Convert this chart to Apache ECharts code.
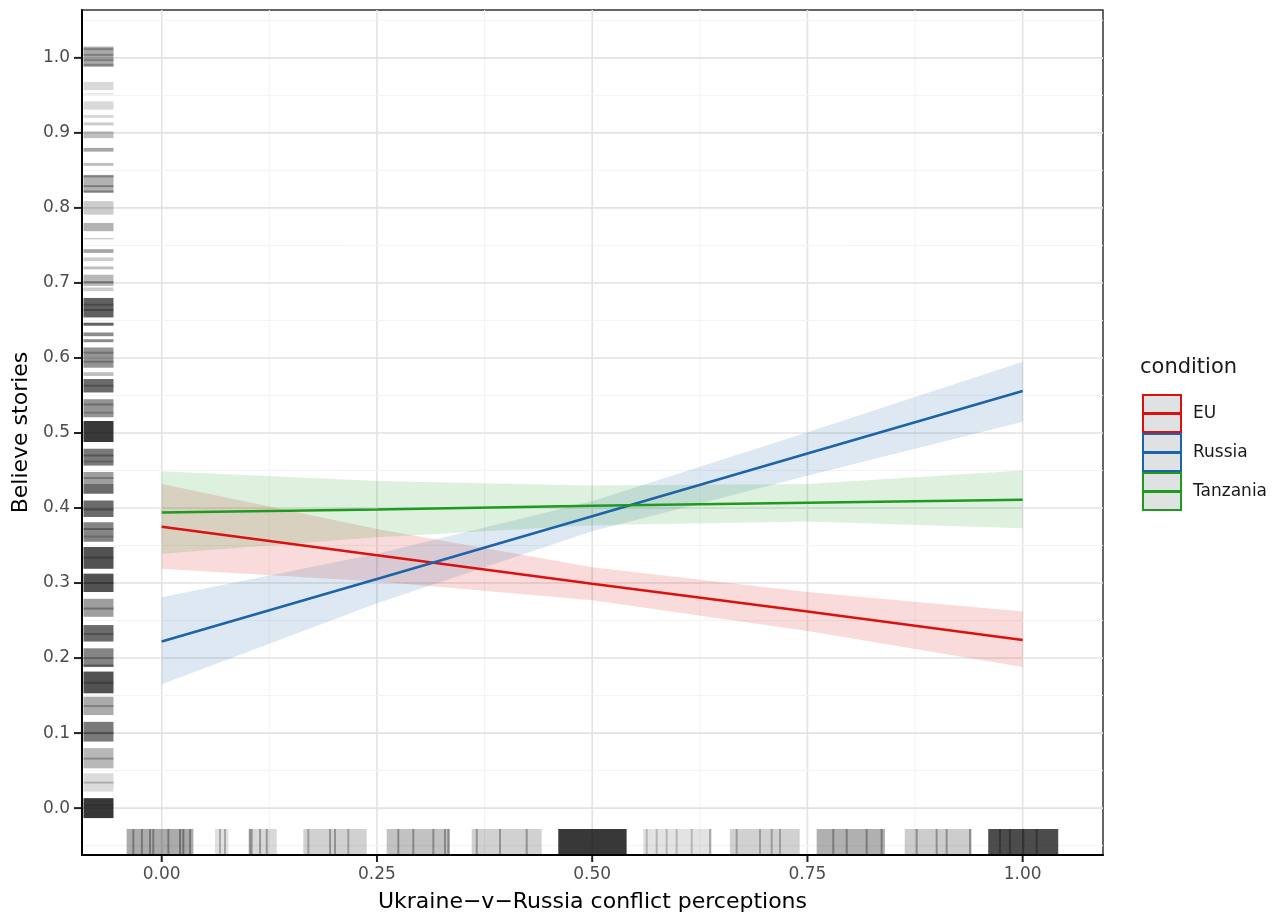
<!DOCTYPE html>
<html><head><meta charset="utf-8">
<script src="https://cdn.jsdelivr.net/npm/echarts@6/dist/echarts.min.js"></script>
<style>html,body{margin:0;padding:0;background:#fff}#c{width:1287px;height:918px}</style>
</head><body><div id="c"></div>
<script>
// ---------- data ----------
const xValues = [0, 0.25, 0.5, 0.75, 1];
const euFit = [0.375, 0.337, 0.299, 0.262, 0.224];
const euLo  = [0.319, 0.302, 0.277, 0.236, 0.188];
const euHi  = [0.432, 0.372, 0.321, 0.288, 0.262];
const ruFit = [0.222, 0.3055, 0.389, 0.4725, 0.556];
const ruLo  = [0.165, 0.273, 0.369, 0.443, 0.515];
const ruHi  = [0.281, 0.339, 0.409, 0.501, 0.595];
const tzFit = [0.394, 0.398, 0.403, 0.407, 0.411];
const tzLo  = [0.339, 0.361, 0.377, 0.382, 0.373];
const tzHi  = [0.449, 0.436, 0.430, 0.432, 0.450];
const groups = ['EU', 'Russia', 'Tanzania'];

const xTicks = [0, 0.25, 0.5, 0.75, 1];
const yTicks = [0, 0.1, 0.2, 0.3, 0.4, 0.5, 0.6, 0.7, 0.8, 0.9, 1.0];
const xMinorGrid = [0.125, 0.375, 0.625, 0.875];
const yMinorGrid = [-0.05, 0.05, 0.15, 0.25, 0.35, 0.45, 0.55, 0.65, 0.75, 0.85, 0.95, 1.05];

// rug on y (Believe stories): [low, high, darkness]
const rugYBands = [
  [0.988, 1.015, 0.34], [0.957, 0.968, 0.15], [0.951, 0.953, 0.10], [0.931, 0.942, 0.15],
  [0.920, 0.924, 0.15], [0.910, 0.914, 0.20], [0.893, 0.902, 0.25], [0.875, 0.880, 0.35],
  [0.856, 0.860, 0.25], [0.820, 0.844, 0.30], [0.791, 0.809, 0.20], [0.769, 0.780, 0.30],
  [0.758, 0.760, 0.20], [0.740, 0.745, 0.35], [0.729, 0.734, 0.20], [0.718, 0.722, 0.25],
  [0.696, 0.711, 0.28], [0.689, 0.694, 0.20], [0.654, 0.680, 0.62], [0.643, 0.647, 0.62],
  [0.629, 0.634, 0.45], [0.621, 0.625, 0.45], [0.587, 0.614, 0.42], [0.576, 0.581, 0.25],
  [0.554, 0.572, 0.58], [0.521, 0.545, 0.42], [0.488, 0.516, 0.78], [0.4565, 0.479, 0.52],
  [0.432, 0.448, 0.38], [0.419, 0.432, 0.58], [0.388, 0.410, 0.58], [0.355, 0.381, 0.48],
  [0.319, 0.348, 0.68], [0.288, 0.3125, 0.68], [0.255, 0.279, 0.38], [0.222, 0.244, 0.58],
  [0.188, 0.213, 0.48], [0.153, 0.182, 0.68], [0.124, 0.1485, 0.33], [0.0887, 0.115, 0.52],
  [0.053, 0.080, 0.28], [0.022, 0.0465, 0.14], [-0.0133, 0.0133, 0.78]
];
// darker / lighter individual rug lines on y: [value, darkness]
const rugYStripes = [
  [1.0116, 0.25], [1.004, 0.25], [0.997, 0.25], [0.9907, 0.25], [0.842, 0.3], [0.829, 0.3],
  [0.822, 0.3], [0.701, 0.35], [0.664, 0.3], [0.671, 0.25], [0.607, 0.25], [0.595, 0.25],
  [0.563, 0.25], [0.538, 0.25], [0.527, 0.2], [0.470, 0.3], [0.462, 0.2], [0.440, 0.25],
  [0.398, 0.3], [0.372, 0.3], [0.362, 0.2], [0.334, 0.25], [0.300, 0.25], [0.266, 0.3],
  [0.232, 0.25], [0.19, 0.35], [0.2, 0.2], [0.167, 0.25], [0.136, 0.25], [0.100, 0.3],
  [0.066, 0.25], [0.034, 0.2], [0.004, 0.15]
];
// rug on x (conflict perceptions): [low, high, darkness]
const rugXBands = [
  [-0.0407, 0.0367, 0.33], [0.0619, 0.0774, 0.12], [0.1006, 0.1336, 0.15], [0.1645, 0.2381, 0.18],
  [0.2613, 0.3348, 0.24], [0.360, 0.4413, 0.18], [0.4606, 0.540, 0.78], [0.559, 0.639, 0.11],
  [0.660, 0.741, 0.18], [0.7607, 0.840, 0.31], [0.863, 0.9408, 0.20], [0.960, 1.0413, 0.70]
];
const rugXStripes = [
  [-0.033, 0.3], [-0.023, 0.3], [-0.0136, 0.3], [-0.0098, 0.3], [0.0077, 0.3], [0.0213, 0.35],
  [0.0251, 0.35], [0.0329, 0.3], [0.0677, 0.25], [0.0735, 0.25], [0.1026, 0.3], [0.1045, 0.3],
  [0.1142, 0.3], [0.122, 0.3], [0.1703, 0.25], [0.1955, 0.3], [0.2013, 0.3], [0.2167, 0.25],
  [0.2748, 0.3], [0.2922, 0.3], [0.3155, 0.3], [0.329, 0.3], [0.3329, 0.3], [0.3659, 0.3],
  [0.3929, 0.3], [0.4239, 0.3], [0.5633, 0.2], [0.5749, 0.2], [0.5865, 0.2], [0.5981, 0.2],
  [0.6156, 0.2], [0.6368, 0.25], [0.6678, 0.25], [0.6949, 0.25], [0.7085, 0.25], [0.7181, 0.25],
  [0.78, 0.3], [0.7956, 0.3], [0.8188, 0.3], [0.8362, 0.3], [0.8769, 0.3], [0.9001, 0.3],
  [0.9117, 0.3], [0.9388, 0.3], [0.9736, 0.3], [0.9852, 0.3], [1.0007, 0.3], [1.0163, 0.3]
];

// ---------- styles ----------
const FONT = 'DejaVu Sans';
const colors = { EU: '#dd1010', Russia: '#1d63a8', Tanzania: '#1f9a1f' };
const X_MIN = -0.0926, X_MAX = 1.0933, Y_MIN = -0.0625, Y_MAX = 1.0638;

const fits = { EU: euFit, Russia: ruFit, Tanzania: tzFit };
const los = { EU: euLo, Russia: ruLo, Tanzania: tzLo };
const his = { EU: euHi, Russia: ruHi, Tanzania: tzHi };

const gridData = [];
xTicks.forEach(v => gridData.push([0, v, 1]));
xMinorGrid.forEach(v => gridData.push([0, v, 0]));
yTicks.forEach(v => gridData.push([1, v, 1]));
yMinorGrid.forEach(v => gridData.push([1, v, 0]));

const tickData = [];
xTicks.forEach(v => tickData.push([0, v]));
yTicks.forEach(v => tickData.push([1, v]));

const series = [];
series.push({
  type: 'custom', name: 'grid', silent: true, z: 0,
  data: gridData,
  renderItem: (params, api) => {
    const o = api.value(0), v = api.value(1), major = api.value(2);
    let p1, p2;
    if (o === 0) { p1 = api.coord([v, Y_MIN]); p2 = api.coord([v, Y_MAX]); }
    else { p1 = api.coord([X_MIN, v]); p2 = api.coord([X_MAX, v]); }
    return { type: 'line', shape: { x1: p1[0], y1: p1[1], x2: p2[0], y2: p2[1] },
      style: { stroke: major ? '#e2e2e2' : '#f3f3f3', lineWidth: major ? 1.6 : 1 } };
  }
});

groups.forEach(g => {
  series.push({
    type: 'custom', name: g + ' band', silent: true, z: 1,
    data: xValues.map((x, i) => [x, los[g][i], his[g][i]]),
    renderItem: (params, api) => {
      if (params.dataIndex !== 0) return null;
      const top = xValues.map((x, i) => api.coord([x, his[g][i]]));
      const bot = xValues.map((x, i) => api.coord([x, los[g][i]])).reverse();
      return { type: 'polygon', shape: { points: top.concat(bot) },
        style: { fill: colors[g], opacity: 0.15 } };
    }
  });
});

groups.forEach(g => {
  series.push({
    type: 'line', name: g, z: 2, showSymbol: false, symbol: 'none',
    data: xValues.map((x, i) => [x, fits[g][i]]),
    lineStyle: { color: colors[g], width: 2.6 }, itemStyle: { color: colors[g] }
  });
});

series.push({
  type: 'custom', name: 'rugY', silent: true, z: 3, data: rugYBands,
  renderItem: (params, api) => {
    const lo = api.value(0), hi = api.value(1), a = api.value(2);
    const pt = api.coord([X_MIN, hi]), pb = api.coord([X_MIN, lo]);
    const h = Math.max(pb[1] - pt[1], 1.5);
    return { type: 'rect', shape: { x: pt[0] + 1.5, y: pt[1], width: 30, height: h },
      style: { fill: 'rgba(0,0,0,' + a + ')' } };
  }
});
series.push({
  type: 'custom', name: 'rugYStripes', silent: true, z: 3, data: rugYStripes,
  renderItem: (params, api) => {
    const v = api.value(0), a = api.value(1);
    const p = api.coord([X_MIN, v]);
    return { type: 'rect', shape: { x: p[0] + 1.5, y: p[1] - 1, width: 30, height: 2 },
      style: { fill: 'rgba(0,0,0,' + a + ')' } };
  }
});
series.push({
  type: 'custom', name: 'rugX', silent: true, z: 3, data: rugXBands,
  renderItem: (params, api) => {
    const lo = api.value(0), hi = api.value(1), a = api.value(2);
    const pl = api.coord([lo, Y_MIN]), pr = api.coord([hi, Y_MIN]);
    return { type: 'rect', shape: { x: pl[0], y: pl[1] - 26, width: Math.max(pr[0] - pl[0], 1.5), height: 25 },
      style: { fill: 'rgba(0,0,0,' + a + ')' } };
  }
});
series.push({
  type: 'custom', name: 'rugXStripes', silent: true, z: 3, data: rugXStripes,
  renderItem: (params, api) => {
    const v = api.value(0), a = api.value(1);
    const p = api.coord([v, Y_MIN]);
    return { type: 'rect', shape: { x: p[0] - 1, y: p[1] - 26, width: 2, height: 25 },
      style: { fill: 'rgba(0,0,0,' + a + ')' } };
  }
});
// axis ticks (outside the panel)
series.push({
  type: 'custom', name: 'ticks', silent: true, z: 4, clip: false, data: tickData,
  renderItem: (params, api) => {
    const o = api.value(0), v = api.value(1);
    if (o === 0) {
      const p = api.coord([v, Y_MIN]);
      return { type: 'line', shape: { x1: p[0], y1: p[1] + 1, x2: p[0], y2: p[1] + 7 },
        style: { stroke: '#222', lineWidth: 2 } };
    }
    const p = api.coord([X_MIN, v]);
    return { type: 'line', shape: { x1: p[0] - 1, y1: p[1], x2: p[0] - 8, y2: p[1] },
      style: { stroke: '#222', lineWidth: 2 } };
  }
});

const chart = echarts.init(document.getElementById('c'), null, { renderer: 'canvas' });
chart.setOption({
  animation: false,
  backgroundColor: '#ffffff',
  title: { text: 'condition', left: 1140, top: 357, padding: 0,
    textStyle: { fontFamily: FONT, fontSize: 21, fontWeight: 'normal', color: '#1a1a1a' } },
  legend: {
    orient: 'vertical', left: 1142, top: 394, padding: 0, itemGap: 0,
    itemWidth: 38, itemHeight: 37, selectedMode: false,
    icon: 'path://M0,0H38V37H0Z M0,18H38V19H0Z',
    data: groups.map(g => ({ name: g, itemStyle: { color: '#dfe2e3', borderColor: colors[g], borderWidth: 2 } })),
    textStyle: { fontFamily: FONT, fontSize: 17, color: '#1a1a1a', padding: [0, 0, 0, 7] }
  },
  grid: { left: 82, right: 184, top: 10, bottom: 61, show: true, borderColor: '#333', borderWidth: 1.5, backgroundColor: 'transparent' },
  xAxis: {
    type: 'value', min: X_MIN, max: X_MAX,
    name: 'Ukraine\u2212v\u2212Russia conflict perceptions', nameLocation: 'middle', nameGap: 36,
    nameTextStyle: { fontFamily: FONT, fontSize: 22, color: '#000' },
    axisLine: { show: true, onZero: false, lineStyle: { color: '#000', width: 2 } },
    axisTick: { show: false },
    axisLabel: { customValues: xTicks, margin: 11, fontFamily: FONT, fontSize: 17, color: '#4d4d4d',
      formatter: v => v.toFixed(2) },
    splitLine: { show: false }, minorSplitLine: { show: false }
  },
  yAxis: {
    type: 'value', min: Y_MIN, max: Y_MAX,
    name: 'Believe stories', nameLocation: 'middle', nameGap: 42,
    nameTextStyle: { fontFamily: FONT, fontSize: 22, color: '#000' },
    axisLine: { show: true, onZero: false, lineStyle: { color: '#000', width: 2 } },
    axisTick: { show: false },
    axisLabel: { customValues: yTicks, margin: 12, fontFamily: FONT, fontSize: 17, color: '#4d4d4d',
      formatter: v => v.toFixed(1) },
    splitLine: { show: false }, minorSplitLine: { show: false }
  },
  series: series
});
</script>
</body></html>
